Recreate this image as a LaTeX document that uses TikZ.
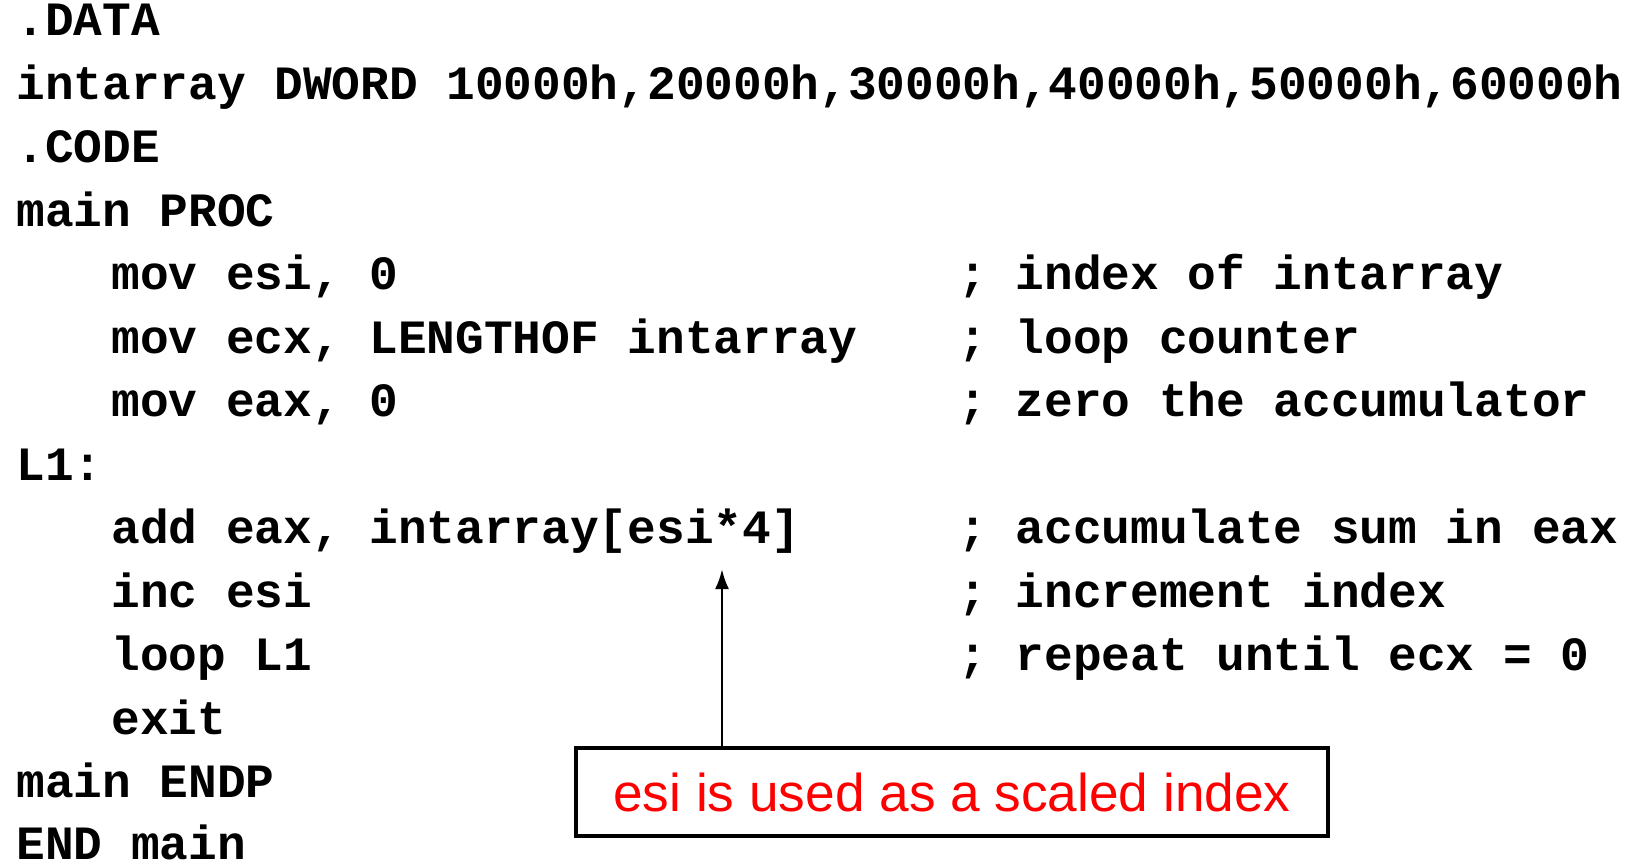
\documentclass[tikz,border=0pt]{standalone}
\usepackage{fontspec}
\setmonofont{Liberation Mono}
\setsansfont{Liberation Sans}
\usetikzlibrary{arrows.meta}

\begin{document}
\begin{tikzpicture}[x=0.5pt,y=-0.5pt,
  codeline/.style={anchor=base west, inner sep=0pt,
    font=\fontsize{23.9}{28}\selectfont\ttfamily\bfseries},
  notebox/.style={draw, line width=1.8pt, inner sep=0pt,
    minimum width=376pt, minimum height=44pt,
    text=red, font=\fontsize{26.6}{30}\selectfont\sffamily}]
\useasboundingbox (0,0) rectangle (1633,864);

% code listing
\node[codeline] (data) at (16,35.5) {.DATA};
\node[codeline] (decl) at (16,99) {intarray DWORD 10000h,20000h,30000h,40000h,50000h,60000h};
\node[codeline] (code) at (16,162.5) {.CODE};
\node[codeline] (mainproc) at (16,226) {main PROC};
\node[codeline] (movesi) at (111,289.5) {mov esi, 0};
\node[codeline] (movecx) at (111,353) {mov ecx, LENGTHOF intarray};
\node[codeline] (moveax) at (111,416.5) {mov eax, 0};
\node[codeline] (lone) at (16,480) {L1:};
\node[codeline] (addeax) at (111,543.5) {add eax, intarray[esi*4]};
\node[codeline] (incesi) at (111,607) {inc esi};
\node[codeline] (loopl) at (111,670.5) {loop L1};
\node[codeline] (exitl) at (111,734) {exit};
\node[codeline] (mainendp) at (16,797.5) {main ENDP};
\node[codeline] (endmain) at (16,859) {END main};

% comments
\node[codeline] (cesi) at (958,289.5) {; index of intarray};
\node[codeline] (cecx) at (958,353) {; loop counter};
\node[codeline] (ceax) at (958,416.5) {; zero the accumulator};
\node[codeline] (cadd) at (958,543.5) {; accumulate sum in eax};
\node[codeline] (cinc) at (958,607) {; increment index};
\node[codeline] (cloop) at (958,670.5) {; repeat until ecx = 0};

% note
\node[notebox] (note) at (952,792) {esi is used as a scaled index};
\coordinate (tip) at (722,569);
\draw[line width=1.4pt, -{Latex[length=10pt,width=7pt]}] (note.north -| tip) -- (tip);
\end{tikzpicture}
\end{document}
